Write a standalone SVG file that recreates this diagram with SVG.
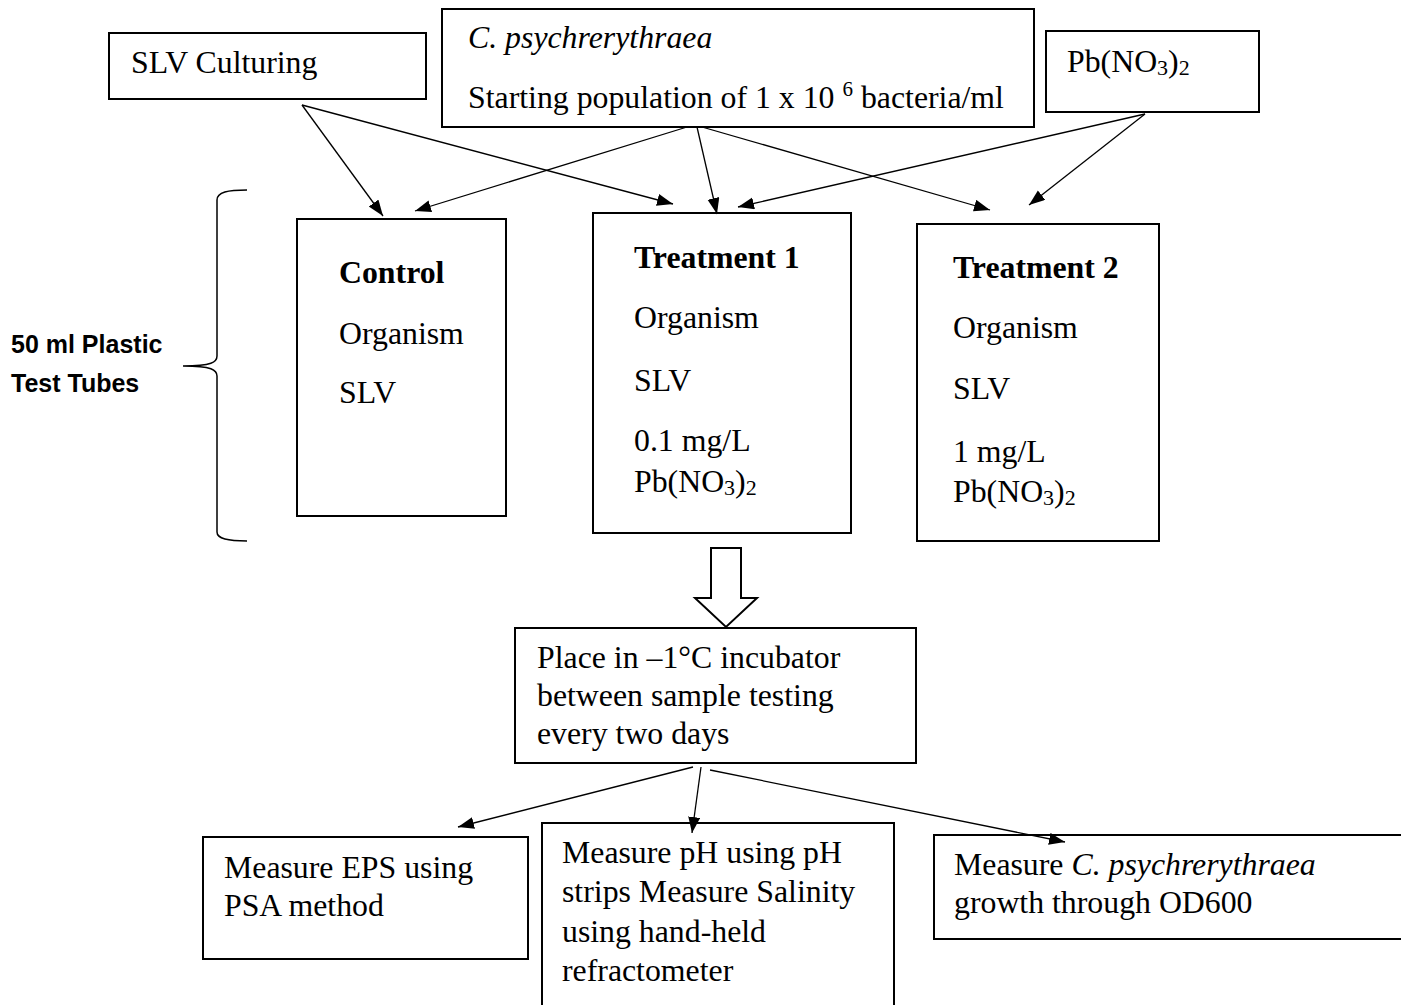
<svg xmlns="http://www.w3.org/2000/svg" width="1401" height="1005" viewBox="0 0 1401 1005">
<defs>
<style>
.box{fill:#fff;stroke:#000;stroke-width:2}
.t{font-family:"Liberation Serif","Times New Roman",serif;font-size:31.8px;fill:#000}
.b{font-weight:bold}
.i{font-style:italic}
.sub{font-size:22px}
.lbl{font-family:"Liberation Sans",Arial,sans-serif;font-size:25px;font-weight:bold;fill:#000}
.con{stroke:#000;stroke-width:1.3;fill:none;marker-end:url(#ah)}
</style>
<marker id="ah" markerUnits="userSpaceOnUse" markerWidth="17" markerHeight="13" refX="16" refY="6" orient="auto">
<path d="M0,0 L16,6 L0,12 z" fill="#000"/>
</marker>
</defs>
<rect width="1401" height="1005" fill="#fff"/>

<g id="brace">
<path d="M247,190 C228,190 217,192 217,200 L217,356 C217,362 212,366 183,366 C212,366 217,370 217,376 L217,532 C217,539 228,541 247,541" fill="none" stroke="#000" stroke-width="1.5"/>
<text class="lbl" x="11" y="353">50 ml Plastic</text>
<text class="lbl" x="11" y="392">Test Tubes</text>
</g>

<g id="slv-culturing">
<rect class="box" x="109" y="33" width="317" height="66"/>
<text class="t" x="131" y="73">SLV Culturing</text>
</g>

<g id="c-psychrerythraea">
<rect class="box" x="442" y="9" width="592" height="118"/>
<text class="t i" x="468" y="48">C. psychrerythraea</text>
<text class="t" x="468" y="108">Starting population of 1 x 10 <tspan font-size="21px" dy="-12">6</tspan><tspan dy="12"> bacteria/ml</tspan></text>
</g>

<g id="pb-no3">
<rect class="box" x="1046" y="31" width="213" height="81"/>
<text class="t" x="1067" y="72">Pb(NO<tspan class="sub" dy="3">3</tspan><tspan dy="-3">)</tspan><tspan class="sub" dy="3">2</tspan></text>
</g>

<g id="control">
<rect class="box" x="297" y="219" width="209" height="297"/>
<text class="t b" x="339" y="283">Control</text>
<text class="t" x="339" y="344">Organism</text>
<text class="t" x="339" y="403">SLV</text>
</g>

<g id="treatment-1">
<rect class="box" x="593" y="213" width="258" height="320"/>
<text class="t b" x="634" y="268">Treatment 1</text>
<text class="t" x="634" y="328">Organism</text>
<text class="t" x="634" y="391">SLV</text>
<text class="t" x="634" y="451">0.1 mg/L</text>
<text class="t" x="634" y="492">Pb(NO<tspan class="sub" dy="3">3</tspan><tspan dy="-3">)</tspan><tspan class="sub" dy="3">2</tspan></text>
</g>

<g id="treatment-2">
<rect class="box" x="917" y="224" width="242" height="317"/>
<text class="t b" x="953" y="278">Treatment 2</text>
<text class="t" x="953" y="338">Organism</text>
<text class="t" x="953" y="399">SLV</text>
<text class="t" x="953" y="462">1 mg/L</text>
<text class="t" x="953" y="502">Pb(NO<tspan class="sub" dy="3">3</tspan><tspan dy="-3">)</tspan><tspan class="sub" dy="3">2</tspan></text>
</g>

<g id="incubator">
<rect class="box" x="515" y="628" width="401" height="135"/>
<text class="t" x="537" y="668">Place in –1°C incubator</text>
<text class="t" x="537" y="706">between sample testing</text>
<text class="t" x="537" y="744">every two days</text>
</g>

<g id="measure-eps">
<rect class="box" x="203" y="837" width="325" height="122"/>
<text class="t" x="224" y="878">Measure EPS using</text>
<text class="t" x="224" y="916">PSA method</text>
</g>

<g id="measure-ph">
<rect class="box" x="542" y="823" width="352" height="190"/>
<text class="t" x="562" y="863">Measure pH using pH</text>
<text class="t" x="562" y="902">strips Measure Salinity</text>
<text class="t" x="562" y="942">using hand-held</text>
<text class="t" x="562" y="981">refractometer</text>
</g>

<g id="measure-growth">
<rect class="box" x="934" y="835" width="480" height="104"/>
<text class="t" x="954" y="875">Measure <tspan class="i">C. psychrerythraea</tspan></text>
<text class="t" x="954" y="913">growth through OD600</text>
</g>

<g id="connectors">
<line class="con" x1="302" y1="105" x2="383" y2="216"/>
<line class="con" x1="302" y1="105" x2="673" y2="204"/>
<line class="con" x1="687" y1="127" x2="415" y2="211"/>
<line class="con" x1="697" y1="127" x2="717" y2="214"/>
<line class="con" x1="702" y1="127" x2="990" y2="210"/>
<line class="con" x1="1145" y1="114" x2="738" y2="207"/>
<line class="con" x1="1145" y1="114" x2="1029" y2="205"/>
<line class="con" x1="693" y1="767" x2="458" y2="827"/>
<line class="con" x1="701" y1="767" x2="692" y2="833"/>
<line class="con" x1="710" y1="770" x2="1065" y2="842"/>
<polygon id="block-arrow" points="711,548 741,548 741,598 757,598 726,627 695,598 711,598" fill="#fff" stroke="#000" stroke-width="2"/>
</g>
</svg>
